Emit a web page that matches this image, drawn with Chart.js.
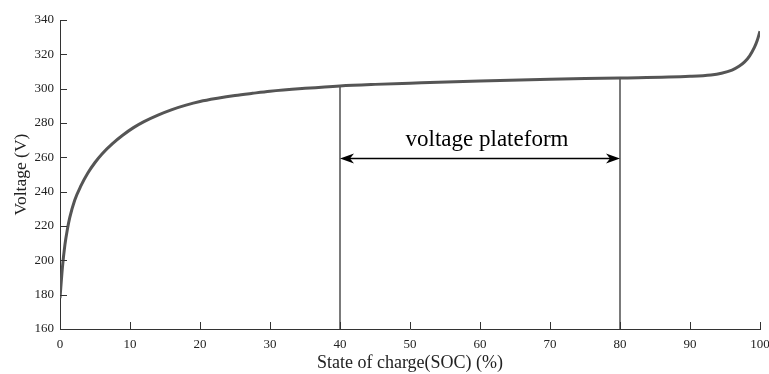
<!DOCTYPE html>
<html>
<head>
<meta charset="utf-8">
<script src="https://cdn.jsdelivr.net/npm/chart.js@4"></script>
<style>
  html, body { margin: 0; padding: 0; background: #fff; }
  #wrap { width: 769px; height: 374px; }
</style>
</head>
<body>
<div id="wrap"><canvas id="chart" width="769" height="374"></canvas></div>
<script>
// state of charge (%) and pack voltage (V)
const soc = [0, 0.35, 0.7, 1.05, 1.4, 2.1, 3, 4, 5, 6, 7.5, 9, 10.5, 12, 14, 16, 18, 20, 22.5, 25, 27.5, 30, 35, 40, 45, 50, 60, 70, 80, 90, 93, 94.5, 96, 97, 97.8, 98.5, 99.2, 99.6, 100];
const voltage = [178, 196, 209, 218, 225, 235, 243.5, 251, 257, 262, 268, 273, 277.3, 280.8, 284.6, 287.8, 290.4, 292.5, 294.4, 296, 297.3, 298.5, 300.2, 301.6, 302.5, 303.2, 304.5, 305.5, 306.2, 307.2, 308, 309, 310.8, 313, 315.6, 319, 324, 328, 333.5];

// plateau markers
const plateauStart = 40;
const plateauEnd = 80;
const plateauStartV = 301.6;
const plateauEndV = 306.2;
const arrowV = 259.5;
const labelX = 61;
const labelV = 266.6;
const plateauLabel = 'voltage plateform';

const xTicks = [0, 10, 20, 30, 40, 50, 60, 70, 80, 90, 100];
const yTicks = [160, 180, 200, 220, 240, 260, 280, 300, 320, 340];

const serif = '"Liberation Serif", "Times New Roman", serif';

const curve = soc.map((x, i) => ({ x: x, y: voltage[i] }));

// inward ticks + arrow + label
const annotate = {
  id: 'annotate',
  afterDatasetsDraw(chart) {
    const ctx = chart.ctx;
    const xs = chart.scales.x;
    const ys = chart.scales.y;
    const area = chart.chartArea;
    ctx.save();
    ctx.strokeStyle = '#333';
    ctx.lineWidth = 1;
    ctx.beginPath();
    xTicks.forEach((t) => {
      const px = Math.round(xs.getPixelForValue(t)) + 0.5;
      ctx.moveTo(px, area.bottom);
      ctx.lineTo(px, area.bottom - 7);
    });
    yTicks.forEach((t) => {
      const py = Math.round(ys.getPixelForValue(t)) + 0.5;
      ctx.moveTo(area.left, py);
      ctx.lineTo(area.left + 7, py);
    });
    ctx.stroke();

    // double arrow
    const x1 = xs.getPixelForValue(plateauStart);
    const x2 = xs.getPixelForValue(plateauEnd);
    const ay = Math.round(ys.getPixelForValue(arrowV)) + 0.5;
    ctx.strokeStyle = '#000';
    ctx.fillStyle = '#000';
    ctx.lineWidth = 1.5;
    ctx.beginPath();
    ctx.moveTo(x1 + 4, ay);
    ctx.lineTo(x2 - 4, ay);
    ctx.stroke();
    const head = (tip, dir) => {
      ctx.beginPath();
      ctx.moveTo(tip, ay);
      ctx.lineTo(tip + dir * 14, ay - 5);
      ctx.lineTo(tip + dir * 10, ay);
      ctx.lineTo(tip + dir * 14, ay + 5);
      ctx.closePath();
      ctx.fill();
    };
    head(x1, 1);
    head(x2, -1);

    ctx.font = '23px ' + serif;
    ctx.textAlign = 'center';
    ctx.textBaseline = 'alphabetic';
    ctx.fillText(plateauLabel, xs.getPixelForValue(labelX), ys.getPixelForValue(labelV));
    ctx.restore();
  }
};

new Chart(document.getElementById('chart').getContext('2d'), {
  type: 'line',
  data: {
    datasets: [
      {
        data: curve,
        borderColor: '#555',
        borderWidth: 3,
        pointRadius: 0,
        cubicInterpolationMode: 'monotone',
        fill: false,
      },
      {
        data: [{ x: plateauStart, y: 160 }, { x: plateauStart, y: plateauStartV }],
        borderColor: '#222',
        borderWidth: 1.2,
        pointRadius: 0,
      },
      {
        data: [{ x: plateauEnd, y: 160 }, { x: plateauEnd, y: plateauEndV }],
        borderColor: '#222',
        borderWidth: 1.2,
        pointRadius: 0,
      },
    ],
  },
  options: {
    responsive: false,
    animation: false,
    layout: { padding: { top: 20, right: 0, left: 0, bottom: 0 } },
    plugins: {
      legend: { display: false },
      tooltip: { enabled: false },
    },
    scales: {
      x: {
        type: 'linear',
        min: 0,
        max: 100,
        afterBuildTicks: (s) => { s.ticks = xTicks.map((v) => ({ value: v })); },
        afterFit: (s) => { s.height = 45; s.paddingLeft = 0; s.paddingRight = 9; },
        grid: { drawOnChartArea: false, drawTicks: false },
        border: { color: '#333', width: 1 },
        ticks: { color: '#222', font: { family: serif, size: 13 }, padding: 8, maxRotation: 0 },
        title: { display: true, text: 'State of charge(SOC) (%)', color: '#222', font: { family: serif, size: 18 }, padding: { top: 2, bottom: 0 } },
      },
      y: {
        min: 160,
        max: 340,
        afterBuildTicks: (s) => { s.ticks = yTicks.map((v) => ({ value: v })); },
        afterFit: (s) => { s.width = 60; },
        grid: { drawOnChartArea: false, drawTicks: false },
        border: { color: '#333', width: 1 },
        ticks: { color: '#222', font: { family: serif, size: 13 }, padding: 6 },
        title: { display: true, text: 'Voltage (V)', color: '#222', font: { family: serif, size: 17.5 }, padding: { top: 11, bottom: 0 } },
      },
    },
  },
  plugins: [annotate],
});
</script>
</body>
</html>
